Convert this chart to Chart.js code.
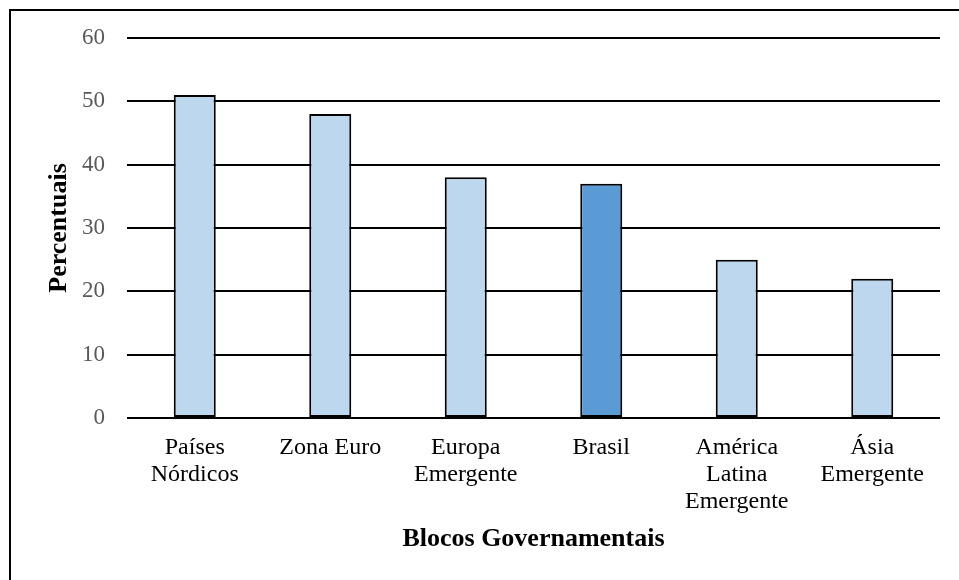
<!DOCTYPE html>
<html>
<head>
<meta charset="utf-8">
<script src="https://cdn.jsdelivr.net/npm/chart.js@4/dist/chart.umd.min.js"></script>
<style>
  html, body { margin: 0; padding: 0; background: #fff; }
  #wrap { width: 959px; height: 580px; position: relative; }
</style>
</head>
<body>
<div id="wrap"><canvas id="chart" width="959" height="580"></canvas></div>
<script>
// Participação por bloco governamental (%)
const categories = [
  ['Países', 'Nórdicos'],
  'Zona Euro',
  ['Europa', 'Emergente'],
  'Brasil',
  ['América', 'Latina', 'Emergente'],
  ['Ásia', 'Emergente']
];
const percentuais = [51, 48, 38, 37, 25, 22];
const highlighted = 'Brasil';
const yTicks = [0, 10, 20, 30, 40, 50, 60];

const lightBlue = '#BDD7EE';
const darkBlue = '#5B9BD5';
const serif = "'Liberation Serif', 'Times New Roman', serif";

const barColors = categories.map(c => (c === highlighted ? darkBlue : lightBlue));

// Outer frame: top and left edges of the figure box
const framePlugin = {
  id: 'frame',
  afterDraw(chart) {
    const ctx = chart.ctx;
    ctx.save();
    ctx.strokeStyle = '#000';
    ctx.lineWidth = 2;
    ctx.beginPath();
    ctx.moveTo(9, 10);
    ctx.lineTo(chart.width, 10);
    ctx.moveTo(10, 9);
    ctx.lineTo(10, chart.height);
    ctx.stroke();
    ctx.restore();
  }
};

new Chart(document.getElementById('chart'), {
  type: 'bar',
  data: {
    labels: categories,
    datasets: [{
      data: percentuais,
      backgroundColor: barColors,
      borderColor: '#000',
      borderWidth: 2,
      borderSkipped: false,
      barPercentage: 0.31,
      categoryPercentage: 1.0
    }]
  },
  options: {
    responsive: false,
    animation: false,
    devicePixelRatio: 1,
    layout: { padding: { top: 38, right: 19, bottom: 0, left: 0 } },
    plugins: {
      legend: { display: false },
      tooltip: { enabled: false }
    },
    scales: {
      x: {
        grid: { display: false, drawTicks: false },
        border: { display: false },
        ticks: {
          color: '#000',
          padding: 16,
          maxRotation: 0,
          autoSkip: false,
          font: { family: serif, size: 24, lineHeight: 1.13 }
        },
        title: {
          display: true,
          text: 'Blocos Governamentais',
          color: '#000',
          font: { family: serif, size: 26, weight: 'bold' },
          padding: { top: 0, bottom: 25 }
        },
        afterFit(scale) { scale.height = 162; }
      },
      y: {
        min: 0,
        max: 60,
        afterBuildTicks(scale) { scale.ticks = yTicks.map(v => ({ value: v })); },
        grid: { color: '#000', lineWidth: 2, drawTicks: false },
        border: { display: false },
        ticks: {
          color: '#595959',
          padding: 22,
          font: { family: serif, size: 23 }
        },
        title: {
          display: true,
          text: 'Percentuais',
          color: '#000',
          font: { family: serif, size: 26, weight: 'bold' },
          padding: { top: 44, bottom: 0 }
        },
        afterFit(scale) { scale.width = 127; }
      }
    }
  },
  plugins: [framePlugin]
});
</script>
</body>
</html>
